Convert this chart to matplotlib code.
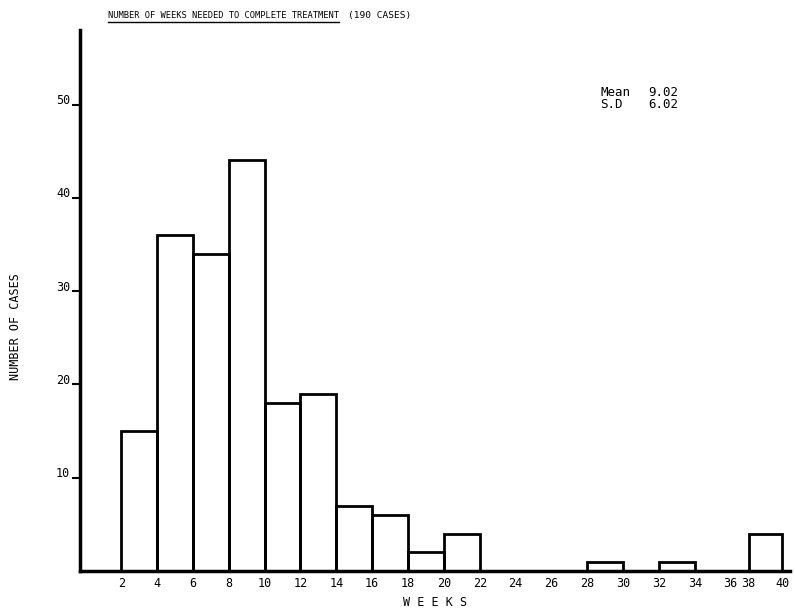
"""
Weeks needed to complete treatment - histogram
"""

import numpy as np
import matplotlib.pyplot as plt
from matplotlib.transforms import ScaledTranslation
from matplotlib.lines import Line2D

plt.rcParams['font.family'] = ['DejaVu Sans Mono']

# Data
bin_start = [2, 4, 6, 8, 10, 12, 14, 16, 18, 20, 28, 32, 38]
counts = [15, 36, 34, 44, 18, 19, 7, 6, 2, 4, 1, 1, 4]
bin_width = 2
week_ticks = [2, 4, 6, 8, 10, 12, 14, 16, 18, 20, 22, 24, 26, 28, 30, 32, 34, 36, 38, 40]
case_ticks = [10, 20, 30, 40, 50]
title = "NUMBER OF WEEKS NEEDED TO COMPLETE TREATMENT"
mean_sd = [("Mean", "9.02"), ("S.D", "6.02")]


def xpos(w):
    # the original scale is squeezed after 36 weeks
    w = np.asarray(w, dtype=float)
    return np.where(w <= 36, w, 37 + (w - 38) * 0.93)


fig = plt.figure(figsize=(7.95, 6.1), dpi=100)
ax = fig.add_axes([0.1006, 0.064, 0.893, 0.887])

left = xpos(bin_start)
right = xpos(np.array(bin_start) + bin_width)
ax.bar(left, counts, width=right - left, align='edge', fill=False,
       edgecolor='black', linewidth=2)

ax.set_xlim(-0.3, 39.3)
ax.set_ylim(0, 58)

for s in ['top', 'right']:
    ax.spines[s].set_visible(False)
ax.spines['left'].set_linewidth(2.5)
ax.spines['bottom'].set_linewidth(2.5)

ax.set_xticks(xpos(week_ticks))
ax.set_xticklabels([str(w) for w in week_ticks], fontsize=8.5)
ax.tick_params(axis='x', length=0, pad=4)

ax.set_yticks(case_ticks)
ax.set_yticklabels([str(c) for c in case_ticks], fontsize=8.5)
ax.tick_params(axis='y', direction='out', length=6, width=1.5, pad=1)
for lab in ax.get_yticklabels():
    lab.set_transform(lab.get_transform() + ScaledTranslation(0, 4 / 72, fig.dpi_scale_trans))

ax.set_xlabel("W E E K S", fontsize=8.5, labelpad=5)
fig.text(0.019, 0.465, "NUMBER OF CASES", rotation=90, fontsize=8.5,
         ha='center', va='center')

# title with underline
t = fig.text(0.136, 0.975, title, fontsize=6.3, ha='left', va='center')
fig.text(0.438, 0.975, "(190 CASES)", fontsize=6.8, ha='left', va='center')
fig.canvas.draw()
bb = t.get_window_extent().transformed(fig.transFigure.inverted())
fig.add_artist(Line2D([bb.x0, bb.x1], [bb.y0 - 0.004, bb.y0 - 0.004],
                      color='black', linewidth=1))

for i, (k, v) in enumerate(mean_sd):
    y = 0.849 - i * 0.021
    fig.text(0.755, y, k, fontsize=9, ha='left', va='center')
    fig.text(0.815, y, v, fontsize=9, ha='left', va='center')

plt.savefig("out.png", dpi=100)
